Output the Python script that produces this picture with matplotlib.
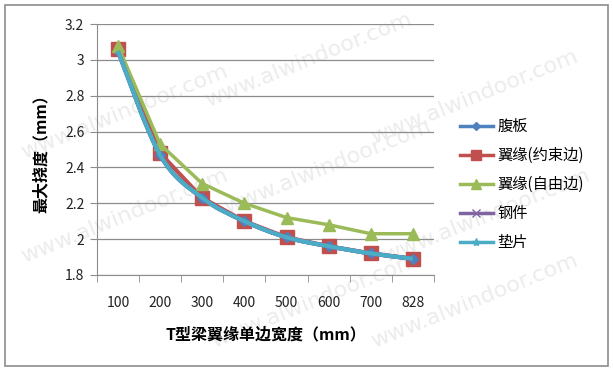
import numpy as np
import matplotlib.pyplot as plt
from matplotlib.patches import Rectangle, PathPatch
from matplotlib.path import Path
from matplotlib.lines import Line2D

plt.rcParams['font.family'] = ['Noto Sans CJK SC', 'DejaVu Sans']

#数据
categories = ['100', '200', '300', '400', '500', '600', '700', '828']
fuban = [3.05, 2.47, 2.23, 2.10, 2.01, 1.96, 1.92, 1.89]
yiyuan_yueshu = [3.06, 2.48, 2.23, 2.10, 2.01, 1.96, 1.92, 1.89]
yiyuan_ziyou = [3.08, 2.53, 2.31, 2.20, 2.12, 2.08, 2.03, 2.03]
gangjian = [3.05, 2.47, 2.23, 2.10, 2.01, 1.96, 1.92, 1.89]
dianpian = [3.05, 2.47, 2.23, 2.10, 2.01, 1.96, 1.92, 1.89]
series_names = ['腹板', '翼缘(约束边)', '翼缘(自由边)', '钢件', '垫片']
y_ticks = [1.8, 2.0, 2.2, 2.4, 2.6, 2.8, 3.0, 3.2]
y_tick_labels = ['1.8', '2', '2.2', '2.4', '2.6', '2.8', '3', '3.2']

#平滑曲线(贝塞尔), 类似Excel的平滑线
def smoothPath(xs, ys):
    xs = np.asarray(xs, float)
    ys = np.asarray(ys, float)
    verts = [(xs[0], ys[0])]
    codes = [Path.MOVETO]
    n = len(xs)
    for i in range(n - 1):
        x0, y0 = (xs[i - 1], ys[i - 1]) if i > 0 else (xs[i], ys[i])
        x3, y3 = (xs[i + 2], ys[i + 2]) if i + 2 < n else (xs[i + 1], ys[i + 1])
        c1 = (xs[i] + (xs[i + 1] - x0) / 6, ys[i] + (ys[i + 1] - y0) / 6)
        c2 = (xs[i + 1] - (x3 - xs[i]) / 6, ys[i + 1] - (y3 - ys[i]) / 6)
        verts += [c1, c2, (xs[i + 1], ys[i + 1])]
        codes += [Path.CURVE4] * 3
    return Path(verts, codes)

fig = plt.figure(figsize=(6.13, 3.72), dpi=100)
ax = fig.add_axes([0.158, 0.261, 0.55, 0.674])
ax.set_zorder(2)

x = np.arange(len(categories))

#边框
fig.patches.append(Rectangle((0.008, 0.015), 0.984, 0.972, transform=fig.transFigure,
                             fill=False, edgecolor='#8c8c8c', linewidth=1.2))

#水印 (在图形后面)
for (wx, wy) in [(0.03, 0.70), (0.33, 0.84), (0.60, 0.74),
                 (0.03, 0.42), (0.36, 0.55), (0.62, 0.42),
                 (0.34, 0.19), (0.60, 0.19)]:
    fig.text(wx, wy, 'www.alwindoor.com', rotation=22, fontsize=16, color='#ececec',
             ha='left', va='center', zorder=-5, family='DejaVu Sans')

ax.set_facecolor('none')
ax.add_patch(PathPatch(smoothPath(x, fuban), facecolor='none', edgecolor='#4F81BD', linewidth=3, zorder=3))
ax.plot(x, fuban, linestyle='none', color='#4F81BD', marker='D', markersize=5, zorder=3)
ax.plot(x, yiyuan_yueshu, color='#C0504D', linewidth=3, marker='s', markersize=9.5, zorder=2)
ax.plot(x, yiyuan_ziyou, color='#9BBB59', linewidth=2.5, marker='^', markersize=9, zorder=3)
ax.add_patch(PathPatch(smoothPath(x, gangjian), facecolor='none', edgecolor='#8064A2', linewidth=3, zorder=3))
ax.add_patch(PathPatch(smoothPath(x, dianpian), facecolor='none', edgecolor='#4BACC6', linewidth=3, zorder=4))

ax.set_xlim(-0.5, 7.5)
ax.set_ylim(1.8, 3.2)
ax.set_yticks(y_ticks)
ax.set_yticklabels(y_tick_labels)
ax.set_xticks(x)
ax.set_xticklabels(categories)
ax.set_xticks(np.arange(-0.5, 8, 1), minor=True)
ax.tick_params(axis='x', which='major', length=0, pad=15, labelsize=10, colors='#222222')
ax.tick_params(axis='x', which='minor', length=5, color='#8c8c8c')
ax.tick_params(axis='y', length=5, color='#8c8c8c', labelsize=10, labelcolor='#222222', pad=4)
ax.grid(axis='y', color='#8c8c8c', linewidth=0.9)
ax.set_axisbelow(True)
for s in ['top', 'right']:
    ax.spines[s].set_visible(False)
ax.spines['left'].set_color('#8c8c8c')
ax.spines['bottom'].set_color('#8c8c8c')

ax.set_ylabel('最大挠度（mm）', fontsize=11.5, fontweight='bold', labelpad=12)
ax.set_xlabel('T型梁翼缘单边宽度（mm）', fontsize=11.5, fontweight='bold', labelpad=12)

handles = [
    Line2D([], [], color='#4F81BD', linewidth=2.5, marker='D', markersize=4),
    Line2D([], [], color='#C0504D', linewidth=2.5, marker='s', markersize=7),
    Line2D([], [], color='#9BBB59', linewidth=2.5, marker='^', markersize=7),
    Line2D([], [], color='#8064A2', linewidth=2.5, marker='x', markersize=6),
    Line2D([], [], color='#4BACC6', linewidth=2.5, marker='*', markersize=6),
]
ax.legend(handles, series_names, loc='center left', bbox_to_anchor=(1.035, 0.36), frameon=False,
          fontsize=11, handlelength=2.2, handletextpad=0.3, labelspacing=0.78)

plt.savefig('out.png', dpi=100)
